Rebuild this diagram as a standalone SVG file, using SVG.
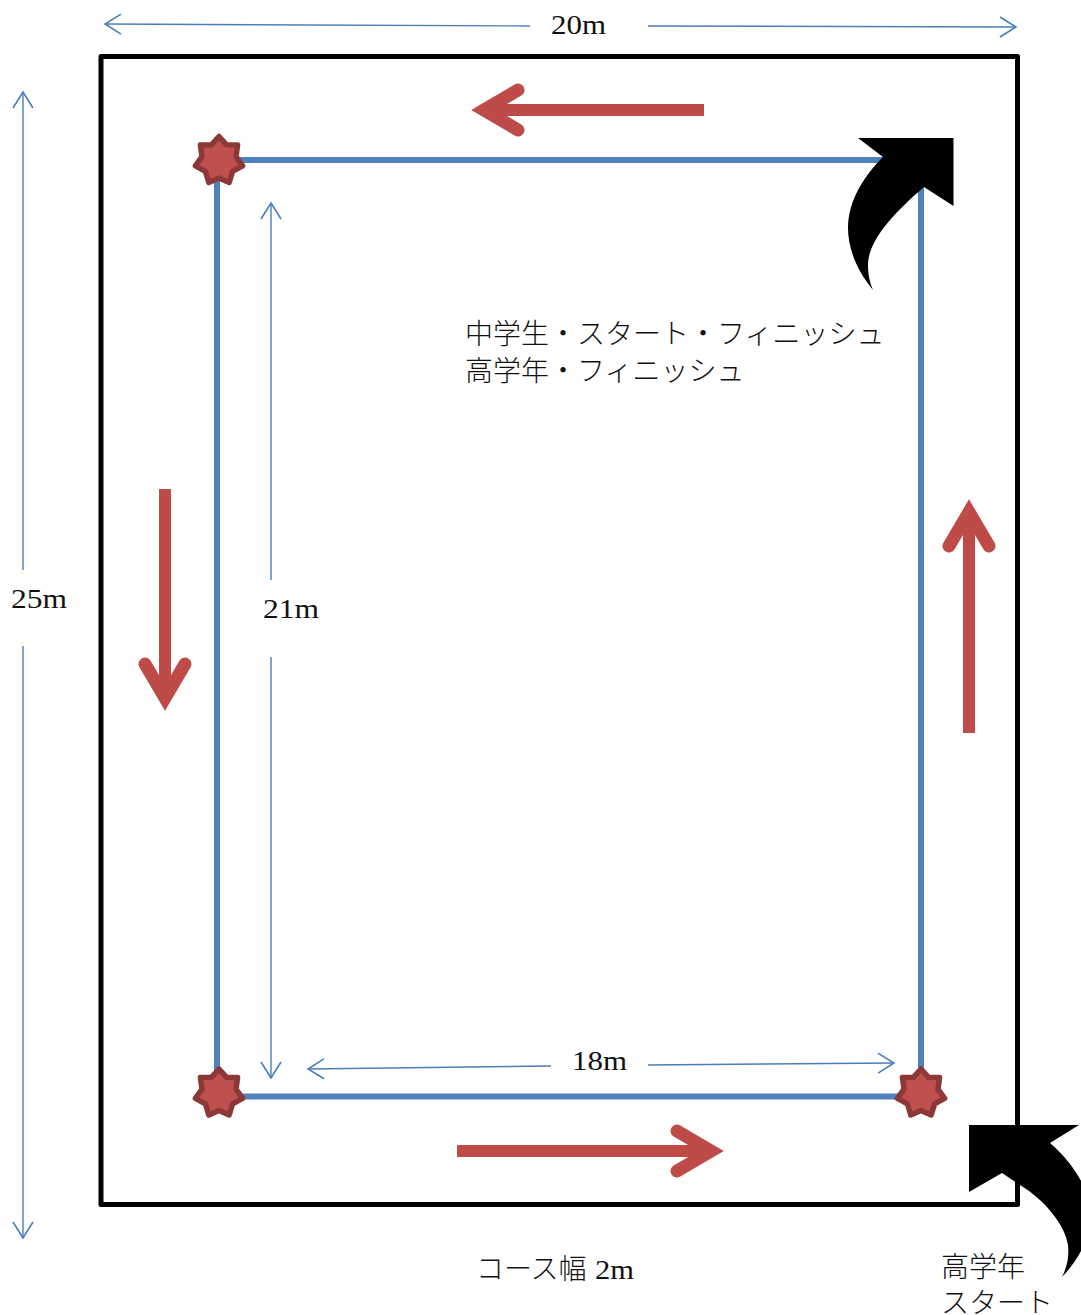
<svg xmlns="http://www.w3.org/2000/svg" xmlns:xlink="http://www.w3.org/1999/xlink" width="1081" height="1315" viewBox="0 0 1081 1315">
<style>
text{font-family:"Liberation Serif","Noto Sans CJK JP",serif;font-size:27.7px;fill:#111}
.jp{font-family:"Noto Sans CJK JP",serif;font-size:28px;font-weight:300}
.course{fill:none;stroke:#4f81bd;stroke-width:6}
.dim{fill:none;stroke:#4a7ebb;stroke-width:1.4;marker-end:url(#open)}
.dir{fill:none;stroke:#be4b48;stroke-width:12;stroke-linecap:butt}
.head{fill:none;stroke:#be4b48;stroke-width:13;stroke-linecap:round;stroke-linejoin:miter}
.star{fill:#c0504d;stroke:#8c3836;stroke-width:5.5;stroke-linejoin:round}
</style>
<defs>
<marker id="open" markerUnits="userSpaceOnUse" markerWidth="24" markerHeight="26" refX="20" refY="13" orient="auto" overflow="visible">
<path d="M4,3 L20,13 L4,23" fill="none" stroke="#4a7ebb" stroke-width="1.6"/>
</marker>
<polygon id="star7" points="0,-24 7.6,-15.7 18.6,-15.6 17,-3.9 23.6,5.4 13.6,10.8 10.2,22 0,17.4 -10.2,22 -13.6,10.8 -23.6,5.4 -17,-3.9 -18.6,-15.6 -7.6,-15.7"/>
</defs>
<rect width="1081" height="1315" fill="#fff"/>
<rect id="hall" x="101" y="56.5" width="916.5" height="1148" fill="none" stroke="#000" stroke-width="5" stroke-linejoin="round"/>
<g id="connectors">
<path id="course-line" class="course" d="M217,1096.5 V160 H890 M921,185 V1096.5 H217"/>
<path class="dim" d="M530,26 L105,24"/>
<path class="dim" d="M648,26 L1016,27"/>
<path class="dim" d="M23,570 V92"/>
<path class="dim" d="M23,646 V1238"/>
<path class="dim" d="M271,580 V203"/>
<path class="dim" d="M271,657 V1078"/>
<path class="dim" d="M551,1066 L308,1069"/>
<path class="dim" d="M648,1065 L894,1063"/>
</g>
<g id="direction-top"><path class="dir" d="M704,110 H490"/><path class="head" d="M518,90 L484,110 L518,130"/></g>
<g id="direction-left"><path class="dir" d="M165,489 V695"/><path class="head" d="M145,664 L165,698 L185,664"/></g>
<g id="direction-right"><path class="dir" d="M969,733 V515"/><path class="head" d="M949,546 L969,512 L989,546"/></g>
<g id="direction-bottom"><path class="dir" d="M457,1151 H705"/><path class="head" d="M677,1131 L711,1151 L677,1171"/></g>
<g id="cone-top-left"><use xlink:href="#star7" href="#star7" class="star" x="219" y="160.500"/></g>
<g id="cone-bottom-left"><use xlink:href="#star7" href="#star7" class="star" x="219" y="1093"/></g>
<g id="cone-bottom-right"><use xlink:href="#star7" href="#star7" class="star" x="921" y="1093"/></g>
<g id="finish-arrow"><path fill="#000" d="M858,138 H953.500 V206 L924,187 C895,212 868,240 868,265 C868,275 870,283 873,290 C858,272 848,250 848,228 C848,200 865,175 883,157 Z"/></g>
<g id="start-arrow"><path fill="#000" d="M969,1125 H1079 L1050,1143 C1068,1158 1081,1178 1088,1195 C1095,1220 1088,1250 1062,1277 C1068,1265 1069,1255 1068,1245 C1065,1225 1045,1200 1020,1185 L1002,1173 L969,1192 Z"/></g>
<g id="labels">
<text x="551" y="34" textLength="55" lengthAdjust="spacingAndGlyphs">20m</text>
<text x="11" y="608" textLength="56" lengthAdjust="spacingAndGlyphs">25m</text>
<text x="263" y="618" textLength="56" lengthAdjust="spacingAndGlyphs">21m</text>
<text x="572" y="1070" textLength="55" lengthAdjust="spacingAndGlyphs">18m</text>
<text class="jp" x="465" y="344">中学生・スタート・フィニッシュ</text>
<text class="jp" x="465" y="381">高学年・フィニッシュ</text>
<text class="jp" x="476" y="1279">コース幅</text>
<text x="595" y="1279" textLength="39" lengthAdjust="spacingAndGlyphs">2m</text>
<text class="jp" x="941" y="1277">高学年</text>
<text class="jp" x="941" y="1313">スタート</text>
</g>
</svg>
